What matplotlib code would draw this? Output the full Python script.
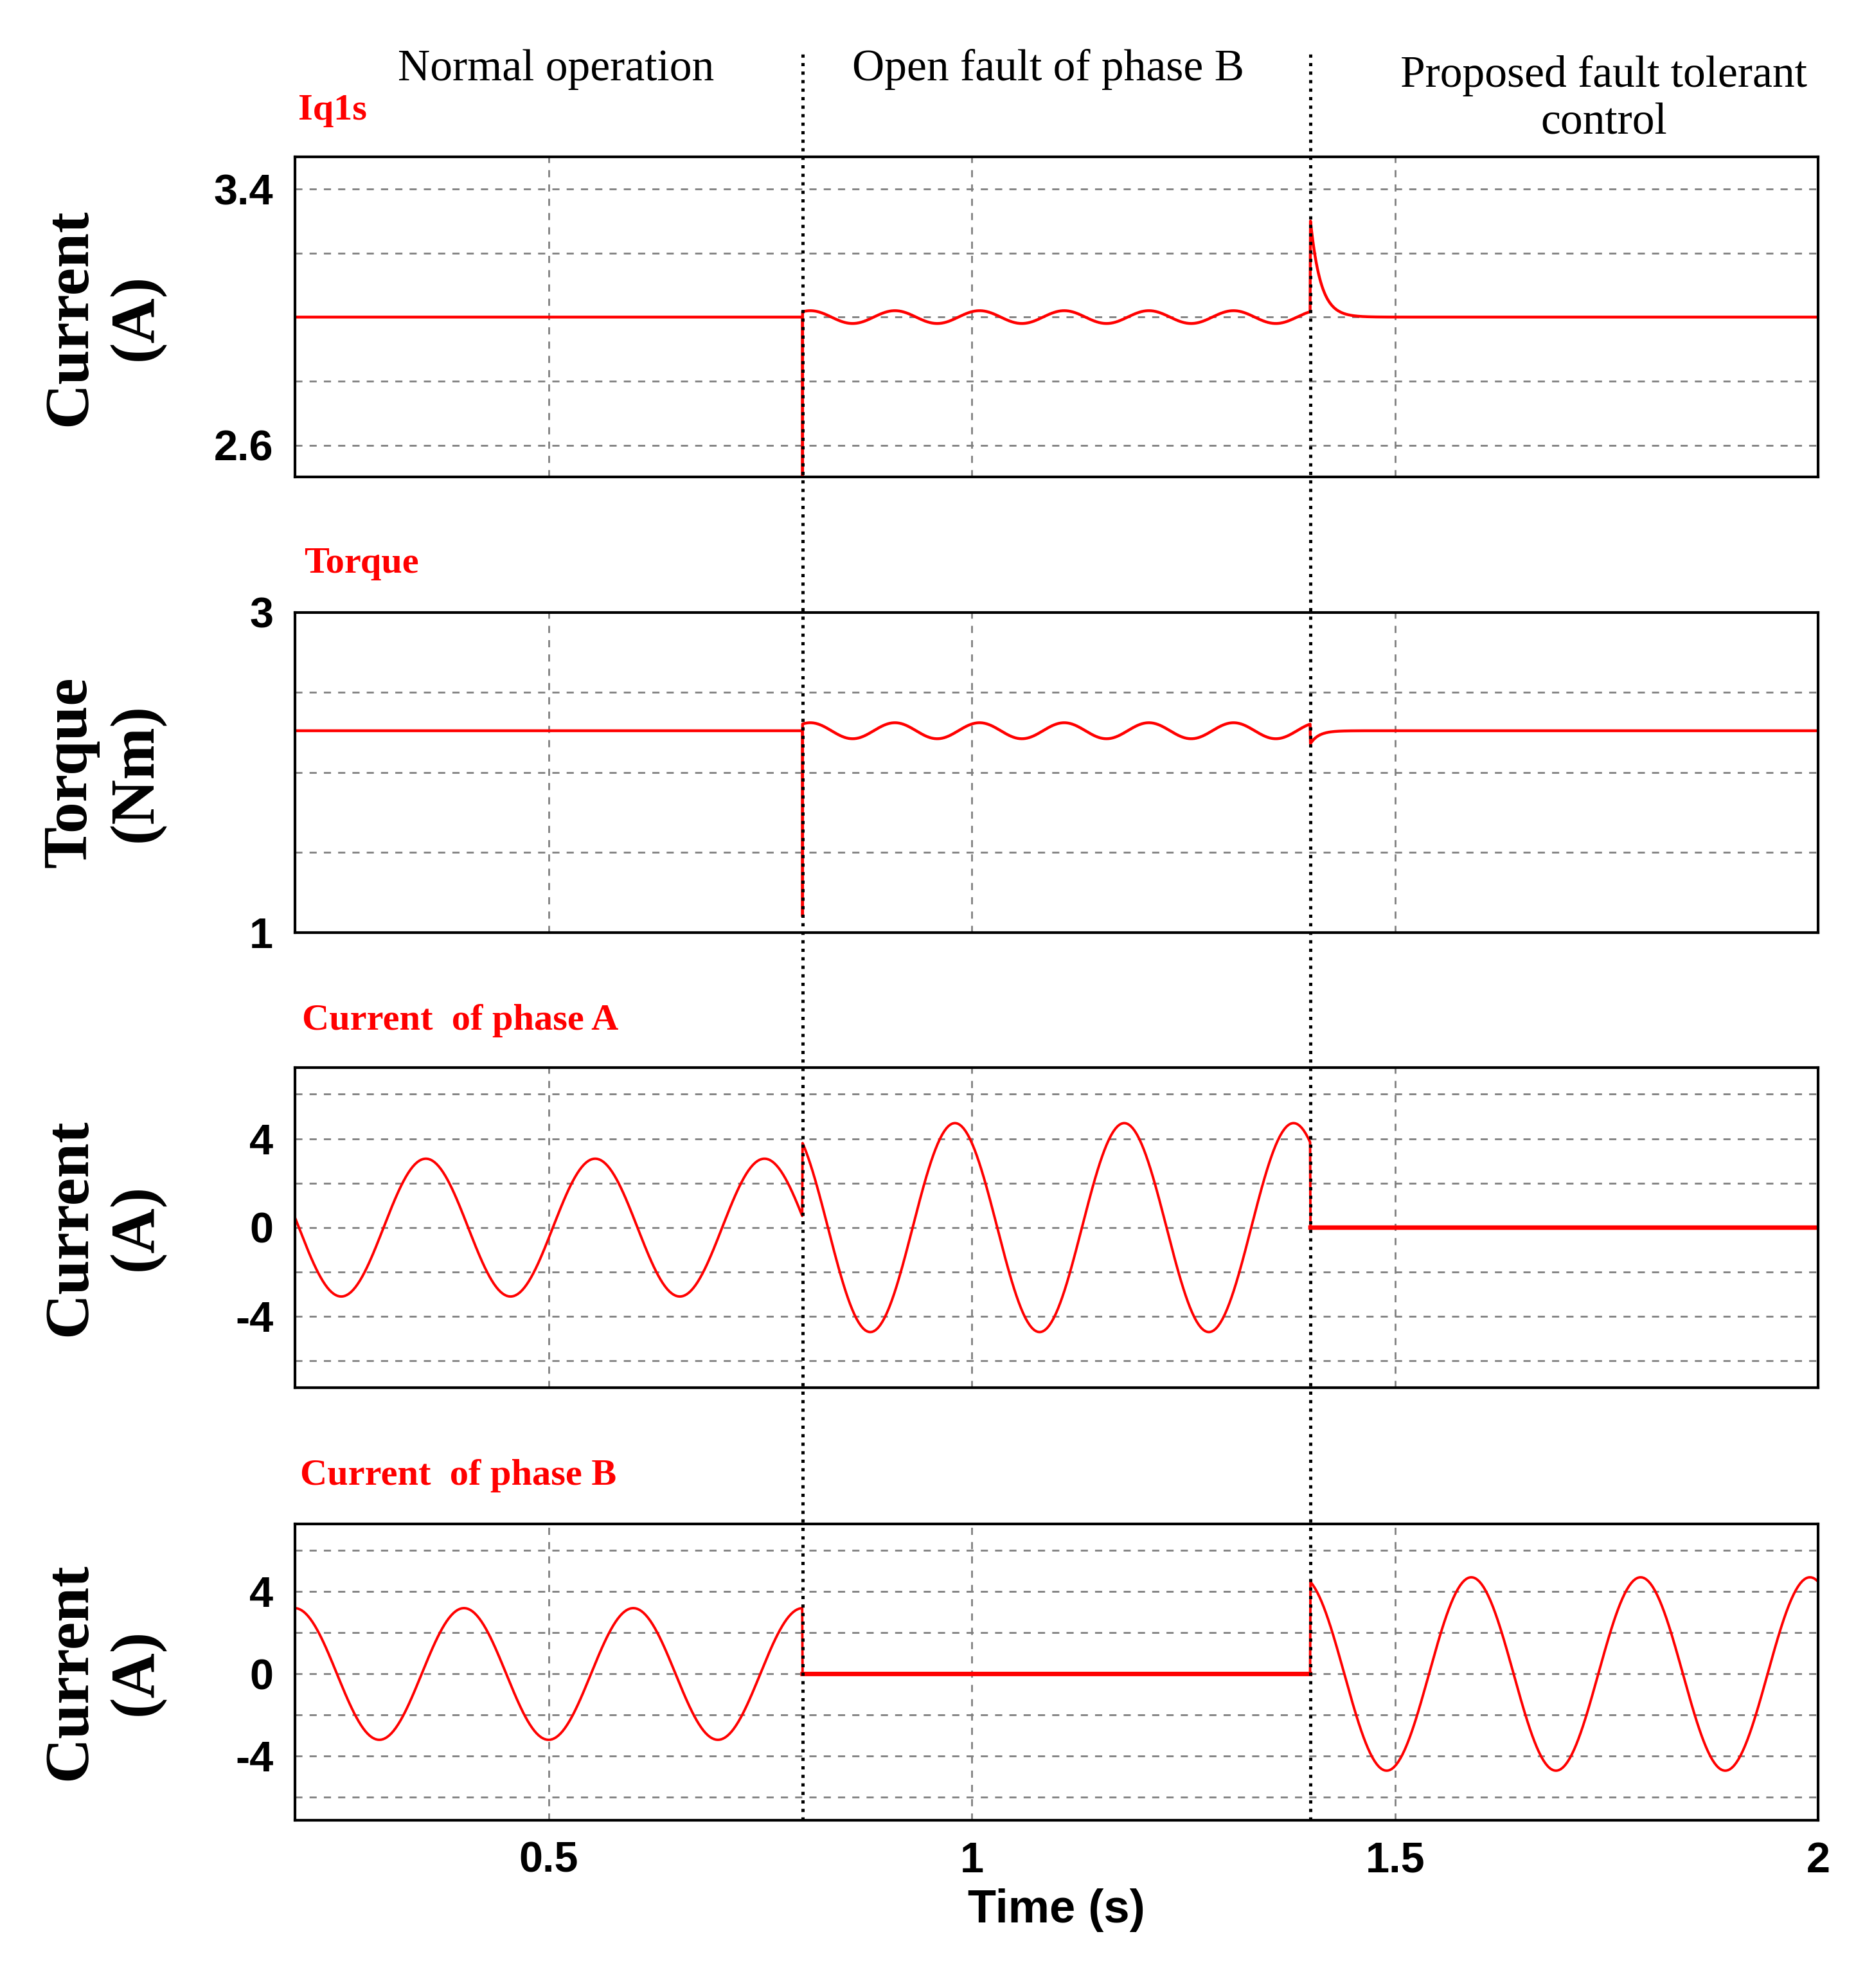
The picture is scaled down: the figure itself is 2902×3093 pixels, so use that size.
import numpy as np
import matplotlib.pyplot as plt
from matplotlib.lines import Line2D

# time axis and event instants (s)
t_start, t_end = 0.2, 2.0
t_fault, t_ftc = 0.8, 1.4
t = np.linspace(t_start, t_end, 4000)

# Iq1s (A)
iq_ref = 3.0
iq_ripple = 0.02
iq_fault_dip = 2.5
iq_ftc_peak = 3.3
# torque (Nm)
te_ref = 2.26
te_ripple = 0.05
te_fault_dip = 1.1
ripple_freq = 10.0
# phase currents: (amplitude A, frequency Hz, time of a peak s) per segment
ia_normal = (3.1, 5.0, 0.355)
ia_fault = (4.7, 5.0, 0.98)
ib_normal = (3.2, 5.0, 0.40)
ib_ftc = (4.7, 5.0, 1.59)

def wave(p, tt):
    a, f, tp = p
    return a * np.cos(2 * np.pi * f * (tt - tp))

nrm = t < t_fault
flt = (t >= t_fault) & (t < t_ftc)
ftc = t >= t_ftc

iq = np.full_like(t, iq_ref)
iq[flt] = iq_ref + iq_ripple * np.sin(2 * np.pi * ripple_freq * (t[flt] - t_fault) + 1.0)
iq[ftc] = iq_ref + (iq_ftc_peak - iq_ref) * np.exp(-(t[ftc] - t_ftc) / 0.012)

te = np.full_like(t, te_ref)
te[flt] = te_ref + te_ripple * np.sin(2 * np.pi * ripple_freq * (t[flt] - t_fault) + 1.0)
te[ftc] = te_ref - 0.08 * np.exp(-(t[ftc] - t_ftc) / 0.01)

ia = np.zeros_like(t)
ia[nrm] = wave(ia_normal, t[nrm])
ia[flt] = wave(ia_fault, t[flt])
ib = np.zeros_like(t)
ib[nrm] = wave(ib_normal, t[nrm])
ib[ftc] = wave(ib_ftc, t[ftc])

# insert the spikes at the fault instant
k = np.searchsorted(t, t_fault)
tt = np.insert(t, k, [t_fault, t_fault])
iq_p = np.insert(iq, k, [iq_ref, iq_fault_dip])
te_p = np.insert(te, k, [te_ref, te_fault_dip])

fig = plt.figure(figsize=(14.51, 15.465), dpi=200)
L, W = 0.158, 0.817
boxes = [(0.760, 0.161), (0.531, 0.161), (0.302, 0.161), (0.0845, 0.149)]
axs = [fig.add_axes([L, b, W, h]) for b, h in boxes]

tickfont = dict(fontfamily='Liberation Sans', fontweight='bold', fontsize=24)
labfont = dict(family='Liberation Serif', weight='bold', size=35)

axs[0].plot(tt, iq_p, color='red', lw=1.6)
axs[0].set_ylim(2.5, 3.5)
axs[0].set_yticks([2.6, 2.8, 3.0, 3.2, 3.4])
axs[0].set_yticklabels(['2.6', '', '', '', '3.4'], **tickfont)
axs[0].set_ylabel('Current\n(A)', fontdict=labfont)

axs[1].plot(tt, te_p, color='red', lw=1.6)
axs[1].set_ylim(1, 3)
axs[1].set_yticks([1, 1.5, 2, 2.5, 3])
axs[1].set_yticklabels(['1', '', '', '', '3'], **tickfont)
axs[1].set_ylabel('Torque\n(Nm)', fontdict=labfont)

axs[2].plot(t, ia, color='red', lw=1.4)
axs[2].plot(t[ftc], ia[ftc], color='red', lw=2.5)
axs[2].set_ylim(-7.2, 7.2)
axs[2].set_yticks([-6, -4, -2, 0, 2, 4, 6])
axs[2].set_yticklabels(['', '-4', '', '0', '', '4', ''], **tickfont)
axs[2].set_ylabel('Current\n(A)', fontdict=labfont)

axs[3].plot(t, ib, color='red', lw=1.4)
axs[3].plot(t[flt], ib[flt], color='red', lw=2.5)
axs[3].set_ylim(-7.1, 7.3)
axs[3].set_yticks([-6, -4, -2, 0, 2, 4, 6])
axs[3].set_yticklabels(['', '-4', '', '0', '', '4', ''], **tickfont)
axs[3].set_ylabel('Current\n(A)', fontdict=labfont)

for i, ax in enumerate(axs):
    ax.set_xlim(t_start, t_end)
    ax.set_xticks([0.5, 1, 1.5, 2])
    ax.grid(True, color='gray', ls=(0, (4, 4)), lw=1)
    ax.tick_params(length=0, pad=12)
    ax.yaxis.set_label_coords(-0.085, 0.5)
    for s in ax.spines.values():
        s.set_linewidth(1.5)
    if i < 3:
        ax.set_xticklabels([])
    else:
        ax.set_xticklabels(['0.5', '1', '1.5', '2'], **tickfont)
        ax.set_xlabel('Time (s)', fontfamily='Liberation Sans', fontweight='bold', fontsize=26)

red = dict(color='red', family='Liberation Serif', weight='bold', size=21)
fig.text(0.160, 0.940, 'Iq1s', **red)
fig.text(0.163, 0.712, 'Torque', **red)
fig.text(0.162, 0.482, 'Current  of phase A', **red)
fig.text(0.161, 0.253, 'Current  of phase B', **red)

hdr = dict(family='Liberation Serif', size=25, ha='center', va='center')
fig.text(0.298, 0.965, 'Normal operation', **hdr)
fig.text(0.562, 0.965, 'Open fault of phase B', **hdr)
fig.text(0.860, 0.950, 'Proposed fault tolerant\ncontrol', linespacing=1.2, **hdr)

for tv in (t_fault, t_ftc):
    xf = L + W * (tv - t_start) / (t_end - t_start)
    fig.add_artist(Line2D([xf, xf], [0.0845, 0.975], color='black', ls=':', lw=1.8))

fig.savefig('out.png', dpi=200)
